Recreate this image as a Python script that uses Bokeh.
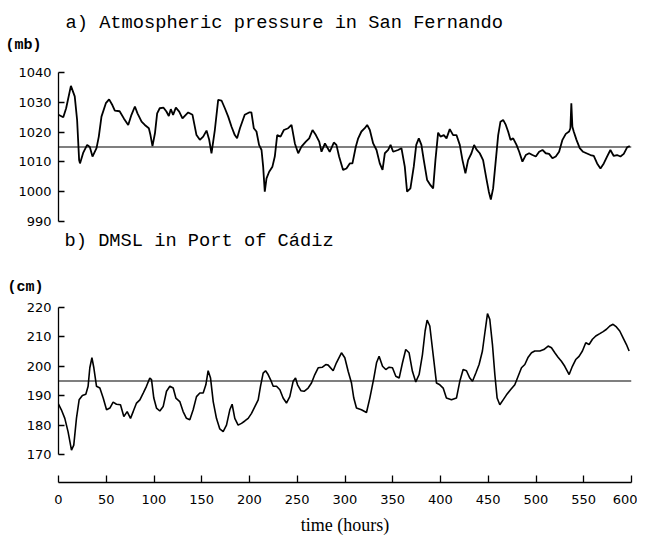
from bokeh.plotting import figure
from bokeh.layouts import column
from bokeh.models import Span, Title, FixedTicker, LinearAxis, Range1d
from bokeh.embed import file_html
from bokeh.resources import INLINE

# ---------------- data ----------------
hours_p = [0, 5, 8, 13, 17, 19.5, 21.6, 22.5, 25.8, 30, 32.8, 35.6, 39.8, 42.2, 45, 49.6, 53, 56.5, 59, 64,
           68.4, 73, 76.4, 80, 82.7, 87, 90.4, 94.6, 96.3, 98.4, 101, 103.3, 106, 110, 113, 115.5, 117.6, 120,
           122.9, 126.4, 129.8, 133.3, 135.8, 140.3, 144.5, 148, 151.5, 155, 157.8, 160.2, 163.7, 167.2, 170.7,
           174.2, 177.7, 181.2, 184.6, 187, 190, 195, 199.6, 202, 204.5, 207.3, 210, 212.6, 214.3, 216, 217.8,
           220.6, 224, 226.5, 229, 232.5, 236, 240.5, 244, 247.5, 251, 254.4, 259, 262.5, 266, 269.5, 273, 275.4,
           279, 284, 288.3, 291, 293.8, 298, 301.5, 305, 307.8, 311.3, 313.8, 317.2, 320.7, 323.2, 326, 329.5,
           333, 336.4, 339.3, 341.7, 345.2, 347.7, 350.4, 355.6, 359.1, 362.6, 365, 368.5, 372, 374.6, 377.3,
           380, 382.5, 386, 389.5, 392.3, 394.7, 397.5, 400, 403.5, 406.3, 409.7, 413.2, 416.7, 420.2, 423,
           426.1, 428.9, 432.4, 435.2, 437.6, 441.1, 444.6, 448, 450.6, 452.7, 455.1, 457.6, 460.4, 462.8,
           465.6, 468.4, 470.8, 473.3, 476.1, 479.6, 482.4, 485.8, 489.3, 492.8, 496.3, 499.8, 503.3, 506.8,
           510.2, 513.7, 517.2, 520.7, 524.2, 527.7, 531.2, 534.7, 536, 537, 538.1, 539.5, 542.4, 545.8, 549.3,
           552.8, 557, 560.5, 564, 567.5, 571, 574.4, 577.9, 581.4, 584.9, 588.4, 591.9, 595.4, 598.2]
pressure_mb = [1025.8, 1025, 1028, 1035.5, 1032, 1024, 1010.6, 1009.5, 1013, 1015.7, 1015, 1011.8, 1014.6, 1018.5,
               1025.2, 1029.7, 1031, 1029, 1027.2, 1027, 1024.6, 1022.4, 1025.8, 1028.6, 1026.3, 1023.5, 1022.4,
               1021.3, 1019, 1015.3, 1019.6, 1026.3, 1028, 1028.2, 1026.9, 1025.4, 1027.7, 1025.8, 1028.2, 1026.9,
               1024.6, 1025.8, 1026.6, 1025.8, 1019, 1017.4, 1018.5, 1020.5, 1017.4, 1012.9, 1020.7, 1030.8,
               1030.6, 1028, 1025.2, 1021.8, 1019, 1017.9, 1021.3, 1025.8, 1026.6, 1026.6, 1021.3, 1020.2, 1015.7,
               1014, 1008.4, 1000, 1004.5, 1006.7, 1008.4, 1011.8, 1019, 1018.5, 1020.7, 1021.3, 1022.4, 1016.2,
               1012.9, 1015.1, 1016.8, 1017.9, 1020.7, 1019, 1016.8, 1013.4, 1016.2, 1013.4, 1016.5, 1015.7,
               1011.8, 1007.3, 1007.8, 1009.5, 1009.5, 1015.1, 1017.9, 1020.2, 1021.3, 1022.4, 1020.7, 1016.2,
               1014, 1009.5, 1007.3, 1012.9, 1014, 1015.7, 1013.4, 1014, 1014.6, 1008.4, 1000, 1001.1, 1008.4,
               1015.7, 1017.9, 1015.7, 1010.6, 1003.9, 1002.2, 1001.1, 1010.6, 1019.8, 1018.5, 1019, 1017.9, 1021,
               1019, 1019, 1015.7, 1010.6, 1006.2, 1010.6, 1012.9, 1015.7, 1014.2, 1012.9, 1010.6, 1004.5, 1000,
               997.4, 1001.1, 1009.5, 1019, 1023.5, 1024.1, 1022.4, 1020.2, 1017.4, 1017.9, 1015.7, 1013.4,
               1010.1, 1012.3, 1012.9, 1012.3, 1011.8, 1013.4, 1014, 1012.9, 1012.7, 1011.2, 1011.8, 1013.4,
               1017.4, 1019.4, 1020.2, 1021.3, 1029.7, 1021.8, 1020.2, 1017.4, 1014.6, 1013.4, 1012.9, 1012.3,
               1012, 1009.5, 1007.8, 1009.5, 1011.8, 1014, 1012, 1012.3, 1011.8, 1012.7, 1014.9, 1015.3]
pressure_mean = 1015

hours_d = [0, 3, 6.6, 10, 13.6, 16, 18.8, 21.6, 25, 28.6, 31, 32.8, 35, 37, 39.8, 43.3, 46.8, 50.3, 53.8, 57.2,
           60.7, 64.9, 68.4, 71.9, 75.4, 78.2, 81.7, 85.2, 88.7, 92.1, 95.6, 97.4, 99.8, 102.6, 106.1, 109.6,
           113.1, 116.6, 120.1, 122.9, 127, 130.5, 134, 137.5, 141, 144.5, 148, 151.5, 154.3, 156.7, 159.2, 162,
           165.4, 168.9, 172.4, 175.9, 179.4, 181.8, 184.6, 188.1, 191.6, 195.1, 198.6, 202.1, 205.6, 209.1,
           211.5, 214.3, 216.8, 219.5, 222, 224.8, 228.3, 231.8, 235.2, 238.7, 242.2, 245.7, 248.2, 250.3,
           253.8, 257.2, 261.4, 264.9, 268.4, 271.9, 276.4, 279.9, 282.4, 287.6, 291, 296.3, 299.8, 303.3,
           306.8, 309.2, 312, 317.2, 322.5, 326, 330.2, 333, 335.7, 339.3, 342.7, 346.2, 349.7, 353.2, 356.7,
           360.2, 363.6, 367.1, 370.6, 374.1, 377.6, 381.1, 383.9, 386, 388.8, 392.3, 395.8, 399.3, 402.8,
           406.2, 411.5, 416.7, 420.2, 423.7, 427.2, 430.7, 433.5, 437, 440.4, 443.9, 446.7, 449.2, 451.6,
           454.4, 456.9, 459.3, 462.1, 465.6, 469.1, 473.3, 477.8, 481.3, 484.8, 488.3, 491.8, 495.3, 498.7,
           504, 508.2, 512.7, 516.2, 519.7, 523.1, 526.6, 530.1, 534.7, 538.1, 541.6, 545.1, 548.6, 552.1,
           555.6, 559.1, 562.6, 566.8, 570.3, 573.8, 577.3, 580.7, 584.2, 587.7, 591.2, 594.7, 597.5]
dmsl_cm = [187.1, 185.2, 182.3, 177.8, 171.5, 173.2, 182.3, 188.6, 190.1, 190.5, 193.2, 199.5, 202.9, 199.5,
           193.2, 192.6, 189.2, 185.2, 185.8, 187.8, 187.1, 186.9, 182.9, 184.6, 182.3, 184.6, 187.5, 188.6,
           190.9, 193.2, 196, 195.5, 189.2, 185.8, 184.8, 186.3, 191.5, 193.2, 192.6, 189.2, 188, 184.6, 182.3,
           181.8, 185.2, 189.7, 190.9, 190.9, 193.7, 198.5, 196, 188, 182.3, 178.7, 177.8, 180, 185.2, 187.1,
           182.3, 180, 180.6, 181.4, 182.3, 184, 186.3, 188.6, 193.2, 197.7, 198.5, 197.2, 195.5, 193.2, 193.2,
           192, 189.2, 187.5, 189.7, 194.9, 196, 193.7, 191.7, 191.5, 192.6, 194.3, 197.2, 199.5, 199.7, 200.6,
           200.4, 198.5, 201.2, 204.6, 202.9, 198.3, 194.3, 189.2, 185.8, 185.2, 184.3, 189.2, 196, 201.2,
           203.4, 200, 198.9, 199.7, 199.5, 196.6, 196, 201.2, 205.7, 204.6, 198.3, 194.7, 197.2, 204, 212,
           215.7, 213.7, 204, 194.3, 193.7, 192.6, 189.2, 188.6, 189.2, 194.9, 198.9, 198.5, 196, 194.9, 197.7,
           200.6, 205.2, 212, 217.9, 216, 207.4, 197.2, 189.2, 186.9, 188.6, 190.3, 192, 193.7, 196.6, 199.5,
           200.6, 203.1, 204.6, 205.2, 205.2, 205.7, 206.9, 206.3, 204.6, 203.1, 201.7, 200, 197.2, 200, 202.3,
           203.4, 205.2, 208, 207.4, 209.2, 210.3, 211.1, 211.8, 212.6, 213.7, 214.3, 213.4, 212, 209.7, 207.4,
           205.2]
dmsl_mean = 195

x_ticks = [0, 50, 100, 150, 200, 250, 300, 350, 400, 450, 500, 550, 600]
p_ticks = [990, 1000, 1010, 1020, 1030, 1040]
d_ticks = [170, 180, 190, 200, 210, 220]

TICK_FONT = "DejaVu Sans"
TITLE_FONT = "Liberation Mono"


def style_yaxis(ax, ticks):
    ax.ticker = FixedTicker(ticks=ticks)
    ax.major_tick_in = 6
    ax.major_tick_out = 0
    ax.minor_tick_in = 0
    ax.minor_tick_out = 0
    ax.major_label_standoff = 7
    ax.major_label_text_font = TICK_FONT
    ax.major_label_text_font_size = "13px"
    ax.major_label_text_color = "black"
    ax.axis_line_color = "black"
    ax.axis_line_width = 1.3
    ax.major_tick_line_color = "black"
    ax.major_tick_line_width = 1.3


def make_title(text, size, offset, standoff, bold=False):
    return Title(text=text, text_font=TITLE_FONT, text_font_size=size,
                 text_font_style="bold" if bold else "normal", text_color="black",
                 align="left", offset=offset, standoff=standoff)


# ---------------- top panel ----------------
# frame extends a little above 1040 so that "(mb)" can sit just above it; the axis is bounded
p1 = figure(frame_width=573, frame_height=167, min_border_left=58, min_border_right=6,
            min_border_top=54, min_border_bottom=38,
            x_range=Range1d(0, 600), y_range=Range1d(990, 1046.04),
            x_axis_location=None, y_axis_location=None,
            output_backend="svg", toolbar_location=None)
p1.outline_line_color = None
p1.grid.visible = False
p1.title = make_title("a) Atmospheric pressure in San Fernando", "18.7px", 7, 0)
p1.add_layout(make_title("(mb)", "15px", -53, 2, bold=True), "above")
p1.add_layout(make_title("b) DMSL in Port of Cádiz", "18.7px", 6, 13), "below")
ax1 = LinearAxis(bounds=(990, 1040))
style_yaxis(ax1, p_ticks)
p1.add_layout(ax1, "left")
p1.line(hours_p, pressure_mb, line_color="black", line_width=1.8)
p1.add_layout(Span(location=pressure_mean, dimension="width", line_color="black", line_width=1.2))

# ---------------- bottom panel ----------------
p2 = figure(frame_width=573, frame_height=186, min_border_left=58, min_border_right=6,
            min_border_top=37, min_border_bottom=52,
            x_range=Range1d(0, 600), y_range=Range1d(160.48, 223.74),
            x_axis_location=None, y_axis_location=None,
            output_backend="svg", toolbar_location=None)
p2.outline_line_color = None
p2.grid.visible = False
p2.add_layout(make_title("(cm)", "15px", -51, 2, bold=True), "above")
ax2 = LinearAxis(bounds=(170, 220))
style_yaxis(ax2, d_ticks)
p2.add_layout(ax2, "left")
xax = LinearAxis(axis_label="time (hours)")
xax.ticker = FixedTicker(ticks=x_ticks)
xax.major_tick_in = 7
xax.major_tick_out = 0
xax.minor_tick_in = 0
xax.minor_tick_out = 0
xax.major_label_standoff = 12
xax.major_label_text_font = TICK_FONT
xax.major_label_text_font_size = "13px"
xax.major_label_text_color = "black"
xax.axis_label_text_font = "Liberation Serif"
xax.axis_label_text_font_style = "normal"
xax.axis_label_text_font_size = "18px"
xax.axis_label_text_color = "black"
xax.axis_label_standoff = 8
xax.axis_line_color = "black"
xax.axis_line_width = 1.3
xax.major_tick_line_color = "black"
xax.major_tick_line_width = 1.3
p2.add_layout(xax, "below")
p2.line(hours_d, dmsl_cm, line_color="black", line_width=1.6)
p2.add_layout(Span(location=dmsl_mean, dimension="width", line_color="black", line_width=1.2))

layout = column(p1, p2, spacing=0)
open("out.html", "w").write(file_html(layout, INLINE))
